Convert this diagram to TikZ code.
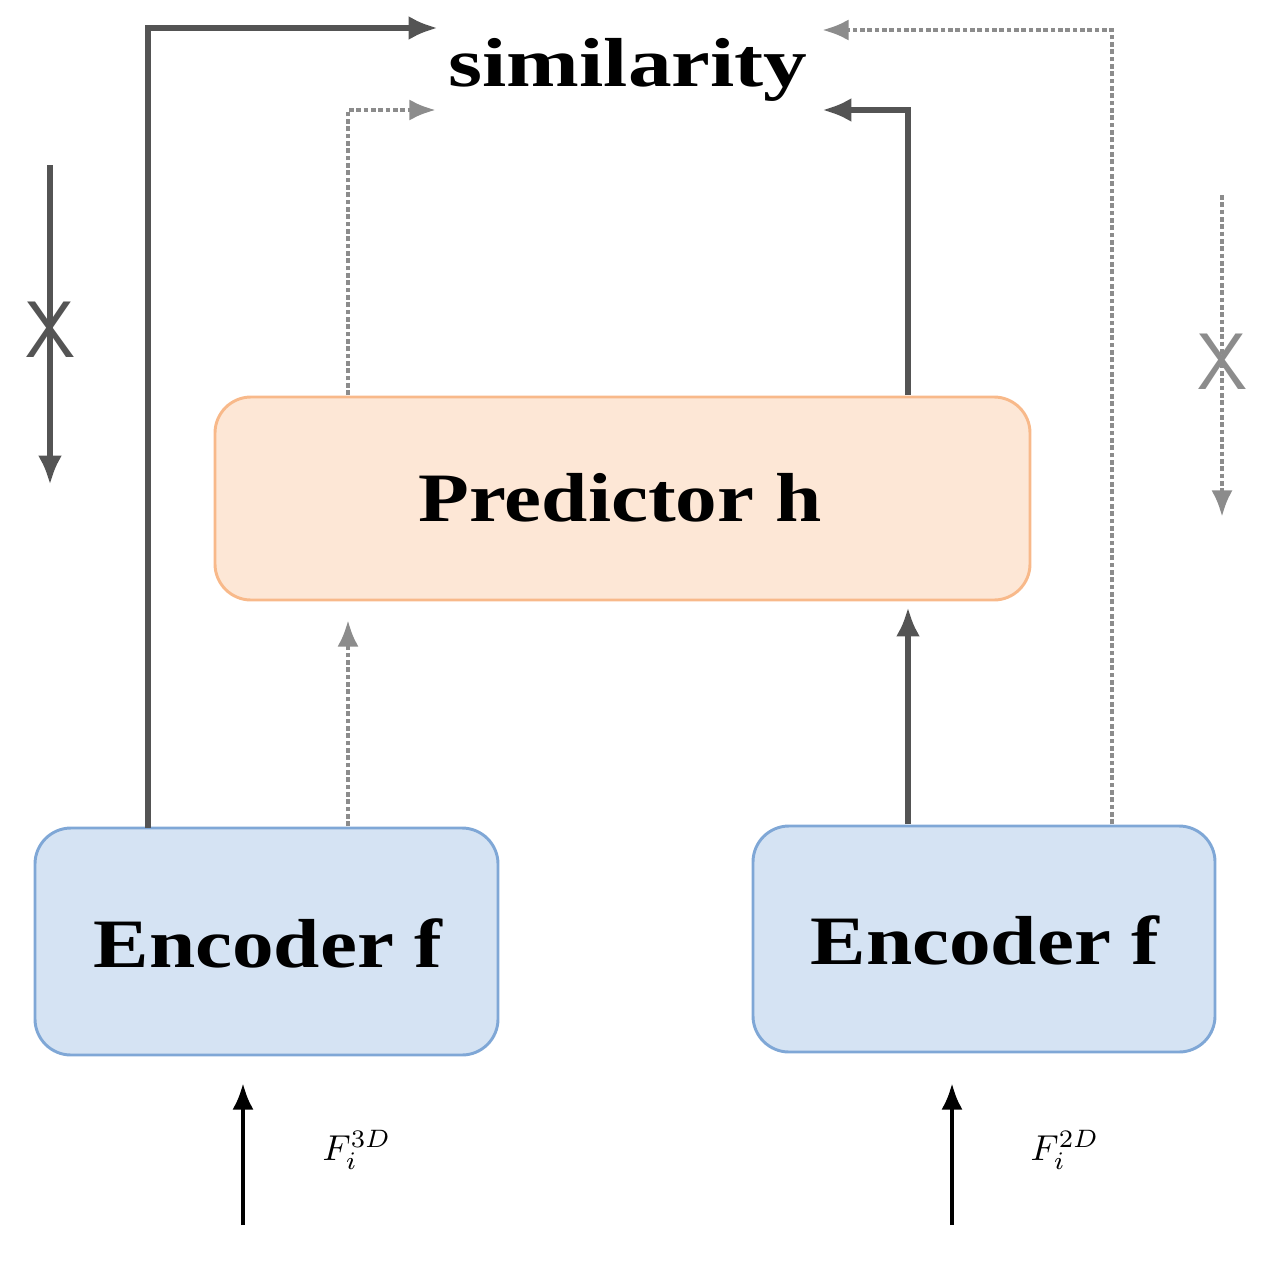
\documentclass[tikz,border=0pt]{standalone}
\usepackage{fontspec}
\setmainfont{Liberation Serif}
\usetikzlibrary{arrows.meta}
\begin{document}
\begin{tikzpicture}[x=0.75pt,y=-0.75pt,
  box/.style={draw,line width=2.2pt,rounded corners=27pt,inner sep=0pt},
  lbl/.style={font=\fontsize{52}{56}\selectfont\bfseries,xscale=1.2},
  sol/.style={draw=black!67,line width=5pt,-{Latex[length=22pt,width=18pt]}},
  dot/.style={draw=black!45,line width=3.5pt,dotted,-{Latex[length=20pt,width=16pt]}}]
\useasboundingbox (0,0) rectangle (1276,1270);
\definecolor{encf}{HTML}{D5E3F3}\definecolor{encd}{HTML}{7FA7D6}
\definecolor{prf}{HTML}{FDE7D6}\definecolor{prd}{HTML}{F8B98A}
\path[box,fill=encf,draw=encd] (35,828) rectangle (498,1055);
\path[box,fill=encf,draw=encd] (753,826) rectangle (1215,1052);
\path[box,fill=prf,draw=prd] (215,397) rectangle (1030,600);
\node[lbl] (e1) at (268,943) {Encoder f};
\node[lbl] (e2) at (985,940) {Encoder f};
\node[lbl] (p) at (620,498) {Predictor h};
\node[lbl,xscale=1.05] (s) at (628,70) {similarity};
\coordinate (a1) at (148,828); \coordinate (a2) at (148,28); \coordinate (a3) at (438,28);
\draw[sol] (a1) -- (a2) -- (a3);
\coordinate (b1) at (348,826); \coordinate (b2) at (348,620);
\draw[dot] (b1) -- (b2);
\coordinate (c1) at (348,395); \coordinate (c2) at (348,110); \coordinate (c3) at (436,110);
\draw[dot] (c1) -- (c2) -- (c3);
\coordinate (d1) at (908,824); \coordinate (d2) at (908,607);
\draw[sol] (d1) -- (d2);
\coordinate (g1) at (908,395); \coordinate (g2) at (908,110); \coordinate (g3) at (822,110);
\draw[sol] (g1) -- (g2) -- (g3);
\coordinate (h1) at (1112,824); \coordinate (h2) at (1112,30); \coordinate (h3) at (822,30);
\draw[dot] (h1) -- (h2) -- (h3);
\coordinate (k1) at (50,165); \coordinate (k2) at (50,485);
\draw[sol] (k1) -- (k2);
\node[text=black!67,font=\fontsize{60}{60}\selectfont\sffamily] (kx) at (50,330) {X};
\coordinate (m1) at (1222,195); \coordinate (m2) at (1222,517);
\draw[dot] (m1) -- (m2);
\node[text=black!45,font=\fontsize{60}{60}\selectfont\sffamily] (mx) at (1222,362) {X};
\coordinate (i1) at (243,1225); \coordinate (i2) at (243,1083);
\draw[line width=3.5pt,-{Latex[length=20pt,width=16pt]}] (i1) -- (i2);
\node (f1) at (357,1150) {\scalebox{2.7}{$F_i^{3D}$}};
\coordinate (j1) at (952,1225); \coordinate (j2) at (952,1083);
\draw[line width=3.5pt,-{Latex[length=20pt,width=16pt]}] (j1) -- (j2);
\node (f2) at (1065,1150) {\scalebox{2.7}{$F_i^{2D}$}};
\end{tikzpicture}
\end{document}
